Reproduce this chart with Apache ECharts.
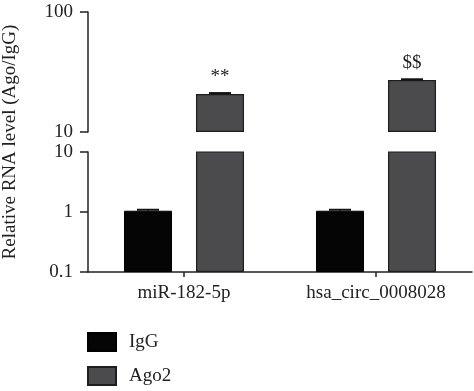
<!DOCTYPE html>
<html>
<head>
<meta charset="utf-8">
<script src="https://cdn.jsdelivr.net/npm/echarts@6/dist/echarts.min.js"></script>
<style>html,body{margin:0;padding:0;background:#fff;}#c{width:474px;height:391px;}</style>
</head>
<body>
<div id="c"></div>
<script>
const categories = ['miR-182-5p', 'hsa_circ_0008028'];
const seriesNames = ['IgG', 'Ago2'];
const iggValues = [1.05, 1.05];
const iggErrors = [0.04, 0.04];
const ago2Values = [20.7, 27.1];
const ago2Errors = [0.4, 0.4];
const annotations = ['**', '$$'];
const topTicks = [10, 100];
const bottomTicks = [0.1, 1, 10];
const yTitle = 'Relative RNA level (Ago/IgG)';

const FONT = 'Liberation Serif';
const INK = '#222';
const chart = echarts.init(document.getElementById('c'));

const axisLine = { show: true, lineStyle: { color: INK, width: 1.5 } };
function yAxis(gi, min, max) {
  return {
    type: 'log', logBase: 10, gridIndex: gi, min: min, max: max, startValue: min,
    axisLine: axisLine,
    axisTick: { show: true, length: 8, lineStyle: { color: INK, width: 1.5 } },
    minorTick: { show: false }, splitLine: { show: false }, minorSplitLine: { show: false },
    axisLabel: { fontFamily: FONT, fontSize: 19, color: INK, margin: 15,
      formatter: v => String(v) }
  };
}

const errData = [];
categories.forEach((c, i) => {
  errData.push([i, iggValues[i], iggErrors[i], 0]);
  errData.push([i, ago2Values[i], ago2Errors[i], 1]);
});

function errSeries(gi) {
  return {
    type: 'custom', xAxisIndex: gi, yAxisIndex: gi, clip: true, z: 5,
    data: errData,
    renderItem: function (params, api) {
      const idx = api.value(0), m = api.value(1), e = api.value(2), s = api.value(3);
      const bw = api.size([1, 0])[0];
      const off = (s === 0 ? -1 : 1) * bw * 0.1875;
      const p0 = api.coord([idx, m]);
      const p1 = api.coord([idx, m + e]);
      const x = p0[0] + off;
      const half = 11;
      return { type: 'group', children: [
        { type: 'line', shape: { x1: x, y1: p0[1], x2: x, y2: p1[1] }, style: { stroke: '#111', lineWidth: 1.5 } },
        { type: 'line', shape: { x1: x - half, y1: p1[1], x2: x + half, y2: p1[1] }, style: { stroke: '#111', lineWidth: 2 } }
      ]};
    }
  };
}

const iggStyle = { color: '#050505', borderColor: '#000', borderWidth: 1 };
const agoStyle = { color: '#4b4b4d', borderColor: '#1e1e1e', borderWidth: 1.2 };

function bars(gi, withLabels) {
  return [
    { name: seriesNames[0], type: 'bar', xAxisIndex: gi, yAxisIndex: gi, clip: true,
      barWidth: '25%', barGap: '50%', itemStyle: iggStyle, data: iggValues },
    { name: seriesNames[1], type: 'bar', xAxisIndex: gi, yAxisIndex: gi, clip: true,
      barWidth: '25%', barGap: '50%', itemStyle: agoStyle, data: ago2Values,
      label: { show: withLabels, position: 'top', distance: 8, fontFamily: FONT, fontSize: 19, color: INK,
        formatter: p => annotations[p.dataIndex] } }
  ];
}

chart.setOption({
  animation: false,
  grid: [
    { left: 88, right: 2, top: 12, height: 120 },
    { left: 88, right: 2, top: 152, height: 120 }
  ],
  xAxis: [
    { type: 'category', gridIndex: 0, data: categories, show: false },
    { type: 'category', gridIndex: 1, data: categories,
      axisLine: axisLine,
      axisTick: { show: true, alignWithLabel: true, length: 5, lineStyle: { color: INK, width: 1.5 } },
      axisLabel: { fontFamily: FONT, fontSize: 19, color: INK, margin: 12 } }
  ],
  yAxis: [ yAxis(0, topTicks[0], topTicks[topTicks.length - 1]), yAxis(1, bottomTicks[0], bottomTicks[bottomTicks.length - 1]) ],
  legend: {
    orient: 'vertical', left: 87, top: 332, height: 80, itemWidth: 28, itemHeight: 18, itemGap: 14,
    padding: 0,
    icon: 'rect', data: seriesNames,
    textStyle: { fontFamily: FONT, fontSize: 19, color: INK, lineHeight: 20, padding: [0, 0, 0, 8] }
  },
  graphic: [{
    type: 'text', x: 10, y: 142, rotation: Math.PI / 2,
    style: { text: yTitle, fontFamily: FONT, fontSize: 19, fill: INK, align: 'center', verticalAlign: 'middle' }
  }],
  series: [...bars(0, true), ...bars(1, false), errSeries(0), errSeries(1)]
});
</script>
</body>
</html>
